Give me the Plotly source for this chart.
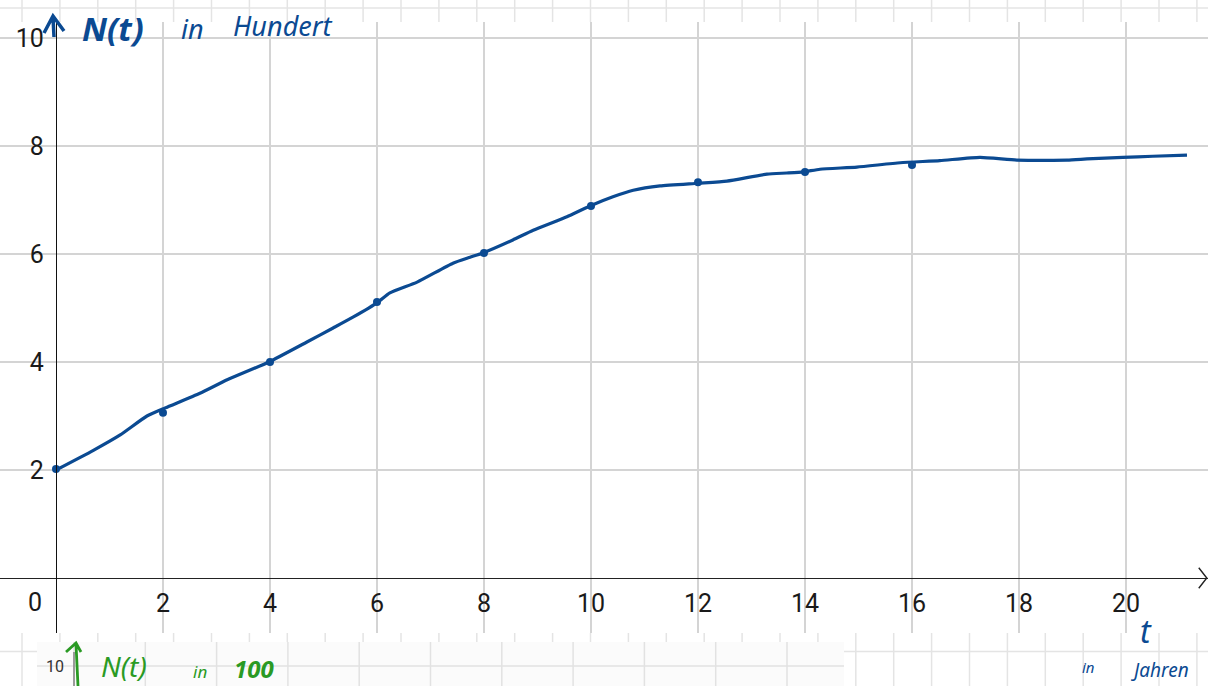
import plotly.graph_objects as go

# ---- data ----
curve_t = [0, 0.69, 1.2, 1.70, 2.04, 2.69, 3.2, 3.98, 4.69, 5.18, 5.55, 6.02, 6.24, 6.75,
           7.42, 7.74, 7.98, 8.54, 8.92, 9.55, 9.98, 10.41, 10.79, 11.29, 12.0, 12.54,
           13.29, 13.66, 13.97, 14.28, 14.97, 15.78, 16.52, 17.27, 17.96, 18.9, 19.27,
           19.94, 20.5, 21.14]
curve_n = [2.0, 2.36, 2.65, 3.0, 3.15, 3.42, 3.67, 4.0, 4.37, 4.63, 4.83, 5.11, 5.28, 5.48,
           5.83, 5.94, 6.02, 6.26, 6.44, 6.69, 6.89, 7.06, 7.18, 7.26, 7.31, 7.35,
           7.48, 7.5, 7.52, 7.57, 7.61, 7.69, 7.73, 7.79, 7.74, 7.74, 7.76,
           7.79, 7.81, 7.83]
dot_t = [0, 2, 4, 6, 8, 10, 12, 14, 16]
dot_n = [2.02, 3.06, 4.0, 5.11, 6.02, 6.89, 7.33, 7.52, 7.65]
x_ticks = [2, 4, 6, 8, 10, 12, 14, 16, 18, 20]
y_ticks = [2, 4, 6, 8, 10]

W, H = 1208, 686
BLUE = "#0b4a92"
GREEN = "#2a9a24"
HAND = "Noto Sans"


def px(x):
    return x / W


def py(y):
    return 1 - y / H


def ppath(points_list):
    parts = []
    for pts in points_list:
        for i, (x, y) in enumerate(pts):
            parts.append(("M" if i == 0 else "L") + f" {px(x):.5f},{py(y):.5f}")
    return " ".join(parts)


fig = go.Figure()
fig.add_trace(go.Scatter(x=curve_t, y=curve_n, mode="lines",
                         line=dict(color=BLUE, width=3.2, shape="spline", smoothing=0.5),
                         hoverinfo="skip", showlegend=False))
fig.add_trace(go.Scatter(x=dot_t, y=dot_n, mode="markers",
                         marker=dict(color=BLUE, size=8), hoverinfo="skip", showlegend=False))

shapes = []
GRID_LIGHT = "#e4e4e4"
# top strip grid
for k in range(0, 33):
    x = 22 + 37.9 * k
    if x > W:
        break
    shapes.append(dict(type="line", xref="paper", yref="paper", x0=px(x), x1=px(x),
                       y0=py(22), y1=py(0), line=dict(color=GRID_LIGHT, width=1.5)))
shapes.append(dict(type="line", xref="paper", yref="paper", x0=0, x1=1, y0=py(8), y1=py(8),
                   line=dict(color=GRID_LIGHT, width=1.5)))
# bottom strip grid
for k in range(0, 33):
    x = 22 + 37.9 * k
    if x > W:
        break
    shapes.append(dict(type="line", xref="paper", yref="paper", x0=px(x), x1=px(x),
                       y0=py(686), y1=py(633), line=dict(color=GRID_LIGHT, width=1.5)))
shapes.append(dict(type="line", xref="paper", yref="paper", x0=0, x1=1, y0=py(651.5), y1=py(651.5),
                   line=dict(color=GRID_LIGHT, width=1.5)))
# pasted snippet at bottom
shapes.append(dict(type="rect", xref="paper", yref="paper", x0=px(37), x1=px(844),
                   y0=py(686), y1=py(642), fillcolor="#fbfbfb", line=dict(width=0)))
for k in range(0, 12):
    x = 74 + 71.3 * k
    if x > 844:
        break
    shapes.append(dict(type="line", xref="paper", yref="paper", x0=px(x), x1=px(x),
                       y0=py(686), y1=py(642), line=dict(color="#e2e2e2", width=1.5)))
shapes.append(dict(type="line", xref="paper", yref="paper", x0=px(37), x1=px(844), y0=py(666),
                   y1=py(666), line=dict(color="#e2e2e2", width=1.5)))
shapes.append(dict(type="line", xref="paper", yref="paper", x0=px(74), x1=px(74), y0=py(686),
                   y1=py(652), line=dict(color="#666666", width=1.2)))
# x-axis arrowhead (open chevron)
shapes.append(dict(type="path", xref="x", yref="y",
                   path="M 21.36,0.19 L 21.51,0 L 21.36,-0.19",
                   line=dict(color="#222222", width=1.4)))
# hand-drawn arrows
shapes.append(dict(type="path", xref="paper", yref="paper",
                   path=ppath([[(44, 33), (53, 16), (64, 31)], [(53, 17), (54, 37)]]),
                   line=dict(color=BLUE, width=3.5)))
shapes.append(dict(type="path", xref="paper", yref="paper",
                   path=ppath([[(66, 652), (76, 643), (81, 652)], [(76, 644), (78, 686)]]),
                   line=dict(color=GREEN, width=2.8)))

annotations = [
    dict(text="0", x=px(35), y=py(602), xref="paper", yref="paper", showarrow=False,
         font=dict(family="Roboto", size=25, color="#1a1a1a"), xanchor="center", yanchor="middle"),
    # handwriting top
    dict(text="<b><i>N(t)</i></b>", x=px(113), y=py(28), xref="paper", yref="paper", showarrow=False,
         font=dict(family=HAND, size=33, color=BLUE), xanchor="center", yanchor="middle"),
    dict(text="<i>in</i>", x=px(192), y=py(29), xref="paper", yref="paper", showarrow=False,
         font=dict(family=HAND, size=27, color=BLUE), xanchor="center", yanchor="middle"),
    dict(text="<i>Hundert</i>", x=px(282), y=py(26), xref="paper", yref="paper", showarrow=False,
         font=dict(family=HAND, size=27, color=BLUE), xanchor="center", yanchor="middle"),
    # handwriting lower right
    dict(text="<i>t</i>", x=px(1146), y=py(630), xref="paper", yref="paper", showarrow=False,
         font=dict(family=HAND, size=32, color=BLUE), xanchor="center", yanchor="middle"),
    dict(text="<i>in</i>", x=px(1088), y=py(667), xref="paper", yref="paper", showarrow=False,
         font=dict(family=HAND, size=15, color=BLUE), xanchor="center", yanchor="middle"),
    dict(text="<i>Jahren</i>", x=px(1160), y=py(670), xref="paper", yref="paper", showarrow=False,
         font=dict(family=HAND, size=19, color=BLUE), xanchor="center", yanchor="middle"),
    # pasted snippet text
    dict(text="10", x=px(66), y=py(666), xref="paper", yref="paper", showarrow=False,
         font=dict(family="Roboto", size=16, color="#333333"), xanchor="right", yanchor="middle"),
    dict(text="<i>N(t)</i>", x=px(124), y=py(666), xref="paper", yref="paper", showarrow=False,
         font=dict(family=HAND, size=28, color=GREEN), xanchor="center", yanchor="middle"),
    dict(text="<i>in</i>", x=px(200), y=py(671), xref="paper", yref="paper", showarrow=False,
         font=dict(family=HAND, size=17, color=GREEN), xanchor="center", yanchor="middle"),
    dict(text="<b><i>100</i></b>", x=px(254), y=py(668), xref="paper", yref="paper", showarrow=False,
         font=dict(family=HAND, size=24, color=GREEN), xanchor="center", yanchor="middle"),
]

fig.update_layout(
    width=W, height=H, margin=dict(l=0, r=0, t=0, b=0),
    paper_bgcolor="white", plot_bgcolor="white",
    shapes=shapes, annotations=annotations, showlegend=False,
    xaxis=dict(domain=[0, 1], range=[-56 / 53.5, (W - 56) / 53.5],
               tickvals=x_ticks, ticktext=[str(v) for v in x_ticks],
               showgrid=True, gridcolor="#d4d4d4", gridwidth=2, zeroline=False,
               showline=True, linecolor="#222222", linewidth=1.4,
               anchor="free", position=(H - 578) / H, ticks="",
               ticklabelstandoff=3,
               tickfont=dict(family="Roboto", size=25, color="#1a1a1a"), fixedrange=True),
    yaxis=dict(domain=[53 / H, 664 / H], range=[-55 / 54, 556 / 54],
               tickvals=y_ticks, ticktext=[str(v) for v in y_ticks],
               showgrid=True, gridcolor="#d4d4d4", gridwidth=2, zeroline=False,
               showline=True, linecolor="#111111", linewidth=1.4,
               anchor="free", position=56 / W, ticks="",
               ticklabelstandoff=7,
               tickfont=dict(family="Roboto", size=25, color="#1a1a1a"), fixedrange=True),
)

fig.write_html("out.html", config={"displayModeBar": False},
               post_script="document.body.style.margin='0';document.body.style.overflow='hidden';")
